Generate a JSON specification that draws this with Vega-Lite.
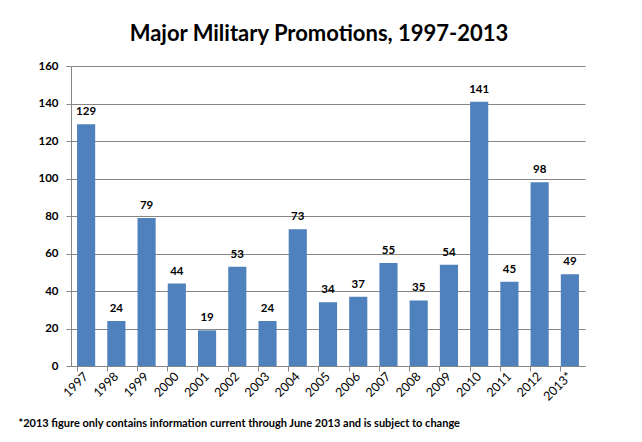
{
  "$schema": "https://vega.github.io/schema/vega-lite/v6.json",
  "autosize": "none",
  "width": 514,
  "height": 300,
  "padding": {"left": 71, "top": 66, "right": 57, "bottom": 76},
  "background": "white",
  "title": {
    "text": "Major Military Promotions, 1997-2013",
    "font": "Lato",
    "fontSize": 22,
    "fontWeight": "bold",
    "color": "black",
    "anchor": "middle",
    "dx": -9,
    "offset": 14
  },
  "config": {
    "view": {"stroke": null},
    "font": "Lato"
  },
  "data": {
    "values": [
      {"year": "1997", "count": 129},
      {"year": "1998", "count": 24},
      {"year": "1999", "count": 79},
      {"year": "2000", "count": 44},
      {"year": "2001", "count": 19},
      {"year": "2002", "count": 53},
      {"year": "2003", "count": 24},
      {"year": "2004", "count": 73},
      {"year": "2005", "count": 34},
      {"year": "2006", "count": 37},
      {"year": "2007", "count": 55},
      {"year": "2008", "count": 35},
      {"year": "2009", "count": 54},
      {"year": "2010", "count": 141},
      {"year": "2011", "count": 45},
      {"year": "2012", "count": 98},
      {"year": "2013*", "count": 49}
    ]
  },
  "encoding": {
    "x": {
      "field": "year",
      "type": "nominal",
      "sort": null,
      "scale": {"paddingInner": 0.4, "paddingOuter": 0.2},
      "axis": {
        "title": "*2013 figure only contains information current through June 2013 and is subject to change",
        "titleFont": "Lato",
        "titleFontSize": 11,
        "titleFontWeight": "bold",
        "titleColor": "black",
        "titleAnchor": "start",
        "titleAlign": "left",
        "titleBaseline": "alphabetic",
        "titleX": -53,
        "titleY": 60,
        "labelAngle": -45,
        "labelAlign": "right",
        "labelBaseline": "middle",
        "labelFont": "Lato",
        "labelFontSize": 12.5,
        "labelFontWeight": "normal",
        "labelColor": "black",
        "labelPadding": 3,
        "bandPosition": 0,
        "domainColor": "#868686",
        "tickColor": "#868686",
        "tickSize": 5,
        "grid": false
      }
    },
    "y": {
      "field": "count",
      "type": "quantitative",
      "scale": {"domain": [0, 160]},
      "axis": {
        "title": null,
        "values": [0, 20, 40, 60, 80, 100, 120, 140, 160],
        "labelFont": "Lato",
        "labelFontSize": 11.5,
        "labelFontWeight": "bold",
        "labelColor": "black",
        "labelPadding": 8,
        "domainColor": "#868686",
        "tickColor": "#868686",
        "tickSize": 5,
        "gridColor": "#868686",
        "gridOpacity": 1
      }
    }
  },
  "layer": [
    {"mark": {"type": "bar", "color": "#4F81BD"}},
    {
      "mark": {"type": "text", "dy": -12, "font": "Lato", "fontSize": 11.5, "fontWeight": "bold", "color": "black"},
      "encoding": {"text": {"field": "count", "type": "quantitative"}}
    }
  ]
}
